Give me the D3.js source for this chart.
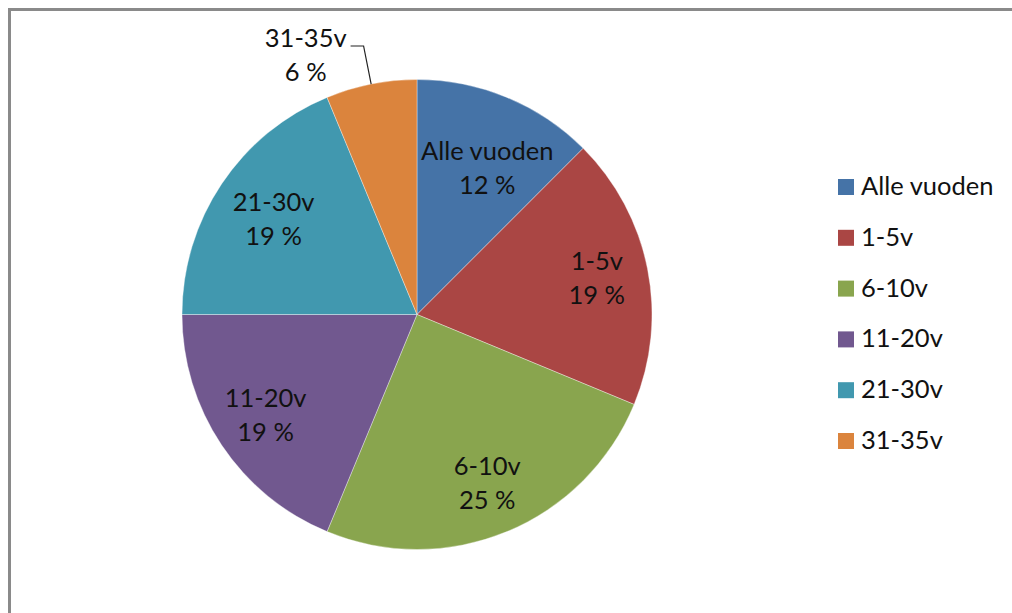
<!DOCTYPE html>
<html>
<head>
<meta charset="utf-8">
<script src="https://cdn.jsdelivr.net/npm/d3@7"></script>
<style>
  body { margin: 0; background: #fff; }
  text { font-family: Lato, "Open Sans", sans-serif; fill: #111; }
</style>
</head>
<body>
<div id="chart"></div>
<script>
// data (16 answers in total)
var categories = ["Alle vuoden", "1-5v", "6-10v", "11-20v", "21-30v", "31-35v"];
var counts = [2, 3, 4, 3, 3, 1];
var percentLabels = ["12 %", "19 %", "25 %", "19 %", "19 %", "6 %"];
var colors = ["#4573a7", "#aa4644", "#89a54e", "#71588f", "#4198af", "#db843d"];

var svgWidth = 1012;
var svgHeight = 613;
var fontSize = 25.5;
var lineGap = 34;

var cx = 417, cy = 314.5, radius = 235;

var svg = d3.select("#chart")
  .append("svg")
  .attr("width", svgWidth)
  .attr("height", svgHeight);

// chart frame (only top and left edges show in the crop)
svg.append("rect")
  .attr("x", 9.5)
  .attr("y", 9.5)
  .attr("width", svgWidth + 20)
  .attr("height", svgHeight + 20)
  .attr("fill", "none")
  .attr("stroke", "#8a8a8a")
  .attr("stroke-width", 3);

var pieGroup = svg.append("g")
  .attr("transform", `translate(${cx}, ${cy})`);

var pie = d3.pie().sort(null).value(d => d);
var arcs = pie(counts);

var arc = d3.arc().innerRadius(0).outerRadius(radius);

pieGroup.selectAll("path.slice")
  .data(arcs)
  .enter()
  .append("path")
  .attr("class", "slice")
  .attr("d", arc)
  .attr("fill", (d, i) => colors[i])
  .attr("stroke", "#ffffff")
  .attr("stroke-opacity", 0.45)
  .attr("stroke-width", 0.8);

// data labels: two lines, category and percent
function addLabel(i) {
  var g = pieGroup.append("g").attr("class", "label");
  var t1 = g.append("text")
    .attr("text-anchor", "middle")
    .attr("y", -8.5)
    .style("font-size", fontSize + "px")
    .text(categories[i]);
  var t2 = g.append("text")
    .attr("text-anchor", "middle")
    .attr("y", -8.5 + lineGap)
    .style("font-size", fontSize + "px")
    .text(percentLabels[i]);
  var w1 = t1.node().getComputedTextLength();
  var w2 = t2.node().getComputedTextLength();
  // one box per text line
  var boxes = [
    { x0: -w1 / 2, x1: w1 / 2, y0: -27, y1: -4 },
    { x0: -w2 / 2, x1: w2 / 2, y0: 7, y1: 27 }
  ];
  return { g: g, w: Math.max(w1, w2), boxes: boxes };
}

function angleOf(x, y) {
  var t = Math.atan2(x, -y);
  return t < 0 ? t + 2 * Math.PI : t;
}

function edgeDist(x, y, a) {
  return Math.abs(x * -Math.cos(a) - y * Math.sin(a));
}

// does the point sit inside the wedge, off both edges and inside the rim?
function inside(x, y, a, pad, margin) {
  if (Math.hypot(x, y) > radius - pad) return false;
  var t = angleOf(x, y);
  if (t < a.startAngle || t > a.endAngle) return false;
  return edgeDist(x, y, a.startAngle) >= margin && edgeDist(x, y, a.endAngle) >= margin;
}

var pad = 14, margin = 3;
arcs.forEach(function(a, i) {
  var mid = (a.startAngle + a.endAngle) / 2;
  var sx = Math.sin(mid), sy = -Math.cos(mid);
  var lab = addLabel(i);

  if (a.endAngle - a.startAngle > 0.6) {
    // inside label: nearest spot to the preferred point where every line fits
    var prefX = sx * radius * 0.78, prefY = sy * radius * 0.78;
    var best = [prefX, prefY], bestD = Infinity;
    for (var dx = -90; dx <= 90; dx += 1) {
      for (var dy = -90; dy <= 90; dy += 1) {
        var dd = dx * dx + dy * dy;
        if (dd >= bestD) continue;
        var px = prefX + dx, py = prefY + dy;
        var ok = lab.boxes.every(b =>
          inside(px + b.x0, py + b.y0, a, pad, margin) &&
          inside(px + b.x1, py + b.y0, a, pad, margin) &&
          inside(px + b.x0, py + b.y1, a, pad, margin) &&
          inside(px + b.x1, py + b.y1, a, pad, margin));
        if (ok) { best = [px, py]; bestD = dd; }
      }
    }
    lab.g.attr("transform", `translate(${best[0]}, ${best[1]})`);
  } else {
    // outside label with a leader line
    var p0 = [sx * radius, sy * radius];
    var p1 = [sx * radius * 1.165, sy * radius * 1.165];
    var p2 = [p1[0] + (sx < 0 ? -13 : 13), p1[1]];
    pieGroup.append("path")
      .attr("d", d3.line()([p0, p1, p2]))
      .attr("fill", "none")
      .attr("stroke", "#222")
      .attr("stroke-width", 1.2);
    var lx = sx < 0 ? p2[0] - 4 - lab.w / 2 : p2[0] + 4 + lab.w / 2;
    lab.g.attr("transform", `translate(${lx}, ${p2[1] + 9.5})`);
  }
});

// legend
var legend = svg.append("g")
  .attr("transform", "translate(838, 179)");

var rows = legend.selectAll("g.row")
  .data(categories)
  .enter()
  .append("g")
  .attr("class", "row")
  .attr("transform", (d, i) => `translate(0, ${i * 50.8})`);

rows.append("rect")
  .attr("width", 16)
  .attr("height", 16)
  .attr("fill", (d, i) => colors[i]);

rows.append("text")
  .attr("x", 23)
  .attr("y", 16)
  .style("font-size", fontSize + "px")
  .text(d => d);
</script>
</body>
</html>
